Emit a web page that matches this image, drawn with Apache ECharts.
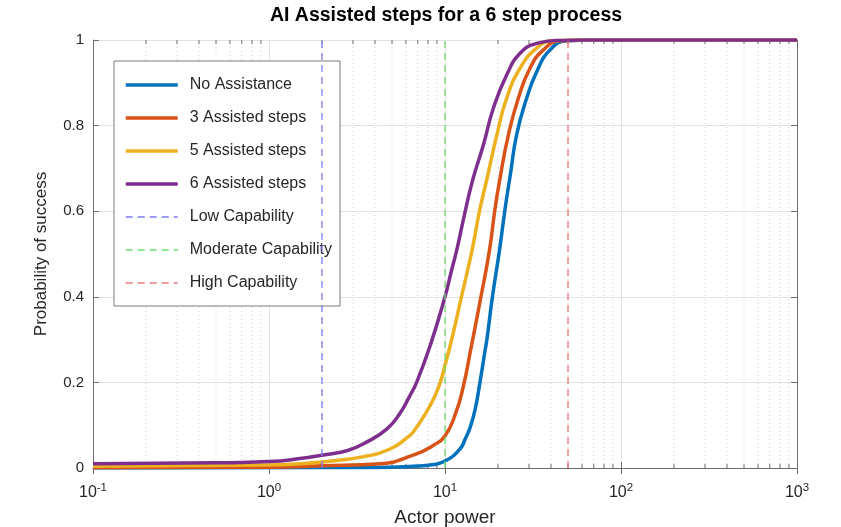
<!DOCTYPE html>
<html>
<head>
<meta charset="utf-8">
<script src="https://cdn.jsdelivr.net/npm/echarts@6/dist/echarts.min.js"></script>
<style>
html,body{margin:0;padding:0;background:#fff;}
#chart{width:841px;height:527px;}
</style>
</head>
<body>
<div id="chart"></div>
<script>
// ---- data ----
const titleText = 'AI Assisted steps for a 6 step process';
const xAxisName = 'Actor power';
const yAxisName = 'Probability of success';
const seriesNames = ['No Assistance', '3 Assisted steps', '5 Assisted steps', '6 Assisted steps'];
const capabilityNames = ['Low Capability', 'Moderate Capability', 'High Capability'];
const capabilityX = [2, 10, 50];

const noAssistance = [[0.1,0],[4,0.001],[6.6,0.004],[8.6,0.008],[10.2,0.018],[12.2,0.045],[13.0,0.067],[13.9,0.095],[14.8,0.135],[15.8,0.20],[16.9,0.275],[17.3,0.30],[18.6,0.40],[20.4,0.509],[21.9,0.603],[23.6,0.69],[25.5,0.778],[29.1,0.864],[33.2,0.926],[39.5,0.977],[49,0.998],[70,1],[1000,1]];
const assisted3 = [[0.1,0.0005],[1,0.002],[2,0.005],[4.3,0.010],[6.6,0.030],[8.6,0.053],[10,0.075],[11.5,0.128],[12.7,0.19],[13.9,0.27],[16,0.40],[17.9,0.509],[19.2,0.603],[20.5,0.675],[22.9,0.778],[26.1,0.864],[30.4,0.934],[36.2,0.977],[45,0.998],[70,1],[1000,1]];
const assisted5 = [[0.1,0.004],[1,0.007],[1.5,0.010],[2,0.014],[3.4,0.026],[4.9,0.045],[6.05,0.07],[6.6,0.084],[7.9,0.133],[8.8,0.170],[9.4,0.20],[10,0.240],[10.9,0.299],[12.4,0.40],[14.3,0.512],[15.7,0.60],[17.3,0.675],[19.7,0.778],[22.4,0.864],[26.7,0.934],[33.2,0.981],[41,0.998],[60,1],[1000,1]];
const assisted6 = [[0.1,0.010],[0.5,0.012],[1,0.015],[1.5,0.022],[2,0.030],[2.8,0.041],[3.6,0.061],[4.7,0.092],[5.55,0.128],[6.3,0.168],[6.9,0.20],[8.3,0.29],[10,0.40],[10.9,0.462],[11.75,0.515],[12.7,0.579],[14.3,0.67],[16.5,0.754],[18.8,0.840],[22.4,0.918],[26.7,0.969],[33.2,0.992],[45,0.999],[60,1],[1000,1]];
const yTicks = [0, 0.2, 0.4, 0.6, 0.8, 1];
const decades = [0.1, 1, 10, 100];
const minorMultipliers = [2, 3, 4, 5, 6, 7, 8, 9];

// ---- presentation ----
const lineColors = ['#0072BD', '#D95319', '#EDB120', '#7E2F8E'];
const capColors = ['#7b7bef', '#6fe06f', '#ee7777'];
const FONT = '"Liberation Sans", Arial, Helvetica, sans-serif';
const CURVE_W = 3.5;
const CAP_W = 1.3;

const minorX = [];
decades.forEach(d => minorMultipliers.forEach(m => minorX.push([d * m, 0])));

const chart = echarts.init(document.getElementById('chart'), null, {renderer: 'canvas'});

const axisLineColor = '#6e6e6e';

const curves = [noAssistance, assisted3, assisted5, assisted6].map((data, i) => ({
  name: seriesNames[i],
  type: 'line',
  data: data,
  showSymbol: false,
  symbol: 'none',
  smooth: 0.5,
  z: 3 + i,
  lineStyle: {color: lineColors[i], width: CURVE_W},
  itemStyle: {color: lineColors[i]},
  emphasis: {disabled: true},
  animation: false
}));

const caps = capabilityX.map((x, i) => ({
  name: capabilityNames[i],
  type: 'line',
  data: [[x, 0], [x, 1]],
  showSymbol: false,
  symbol: 'none',
  z: 10,
  lineStyle: {color: capColors[i], width: CAP_W, type: [7, 5]},
  itemStyle: {color: capColors[i]},
  emphasis: {disabled: true},
  animation: false
}));

const minorGrid = {
  type: 'custom',
  data: minorX,
  z: 1,
  silent: true,
  animation: false,
  clip: false,
  encode: {x: 0, y: 1},
  renderItem: function (params, api) {
    const x = api.value(0);
    const p0 = api.coord([x, 0]);
    const p1 = api.coord([x, 1]);
    return {
      type: 'group',
      children: [
        {type: 'line', shape: {x1: p0[0], y1: p0[1], x2: p1[0], y2: p1[1]},
         style: {stroke: '#d2d2d2', lineWidth: 1, lineDash: [1, 3]}},
        {type: 'line', shape: {x1: p0[0], y1: p0[1], x2: p0[0], y2: p0[1] - 4},
         style: {stroke: axisLineColor, lineWidth: 1}},
        {type: 'line', shape: {x1: p1[0], y1: p1[1], x2: p1[0], y2: p1[1] + 4},
         style: {stroke: axisLineColor, lineWidth: 1}}
      ]
    };
  }
};

const legendData = seriesNames.map(n => ({name: n, lineStyle: {width: CURVE_W}}))
  .concat(capabilityNames.map(n => ({name: n, lineStyle: {width: CAP_W}})));

const option = {
  backgroundColor: '#ffffff',
  animation: false,
  textStyle: {fontFamily: FONT},
  title: {
    text: titleText,
    left: 441,
    textAlign: 'center',
    top: 1,
    textStyle: {fontFamily: FONT, fontSize: 19.5, fontWeight: 'bold', color: '#000'}
  },
  grid: {left: 93, right: 44, top: 40, bottom: 59, containLabel: false, outerBoundsMode: 'none'},
  legend: {
    orient: 'vertical',
    left: 114,
    top: 61,
    padding: [16, 8, 15, 10],
    itemWidth: 52,
    itemHeight: 14,
    itemGap: 17,
    backgroundColor: '#ffffff',
    borderColor: '#7a7a7a',
    borderWidth: 1,
    data: legendData,
    selectedMode: false,
    itemStyle: {opacity: 0, color: 'rgba(0,0,0,0)', borderWidth: 0},
    textStyle: {fontFamily: FONT, fontSize: 16, color: '#262626', padding: [0, 0, 0, 7]}
  },
  xAxis: [{
    type: 'log',
    logBase: 10,
    min: 0.1,
    max: 1000,
    name: xAxisName,
    nameLocation: 'middle',
    nameGap: 40,
    nameTextStyle: {fontFamily: FONT, fontSize: 19, color: '#262626'},
    axisLine: {show: true, lineStyle: {color: axisLineColor, width: 1}},
    axisTick: {show: true, inside: true, length: 6, lineStyle: {color: axisLineColor}},
    splitLine: {show: true, lineStyle: {color: '#e3e3e3', width: 1}},
    axisLabel: {
      margin: 14,
      formatter: function (v) {
        const e = Math.round(Math.log10(v));
        return '{b|10}{s|' + e + '}';
      },
      rich: {
        b: {fontFamily: FONT, fontSize: 16, color: '#262626'},
        s: {fontFamily: FONT, fontSize: 11.5, color: '#262626', padding: [0, 0, 10, 0]}
      }
    }
  }, {
    type: 'log',
    logBase: 10,
    min: 0.1,
    max: 1000,
    position: 'top',
    axisLine: {show: true, lineStyle: {color: axisLineColor, width: 1}},
    axisTick: {show: true, inside: true, length: 6, lineStyle: {color: axisLineColor}},
    axisLabel: {show: false},
    splitLine: {show: false}
  }],
  yAxis: [{
    type: 'value',
    min: 0,
    max: 1,
    interval: 0.2,
    name: yAxisName,
    nameLocation: 'middle',
    nameGap: 43,
    nameTextStyle: {fontFamily: FONT, fontSize: 17, color: '#262626'},
    axisLine: {show: true, lineStyle: {color: axisLineColor, width: 1}},
    axisTick: {show: true, inside: true, length: 6, lineStyle: {color: axisLineColor}},
    splitLine: {show: true, lineStyle: {color: '#e3e3e3', width: 1}},
    axisLabel: {
      margin: 9,
      fontFamily: FONT, fontSize: 15, color: '#262626',
      formatter: function (v) { return yTicks.indexOf(+v.toFixed(1)) >= 0 ? String(+v.toFixed(1)) : ''; }
    }
  }, {
    type: 'value',
    min: 0,
    max: 1,
    interval: 0.2,
    position: 'right',
    axisLine: {show: true, lineStyle: {color: axisLineColor, width: 1}},
    axisTick: {show: true, inside: true, length: 6, lineStyle: {color: axisLineColor}},
    axisLabel: {show: false},
    splitLine: {show: false}
  }],
  series: [minorGrid].concat(curves, caps)
};

chart.setOption(option);
</script>
</body>
</html>
